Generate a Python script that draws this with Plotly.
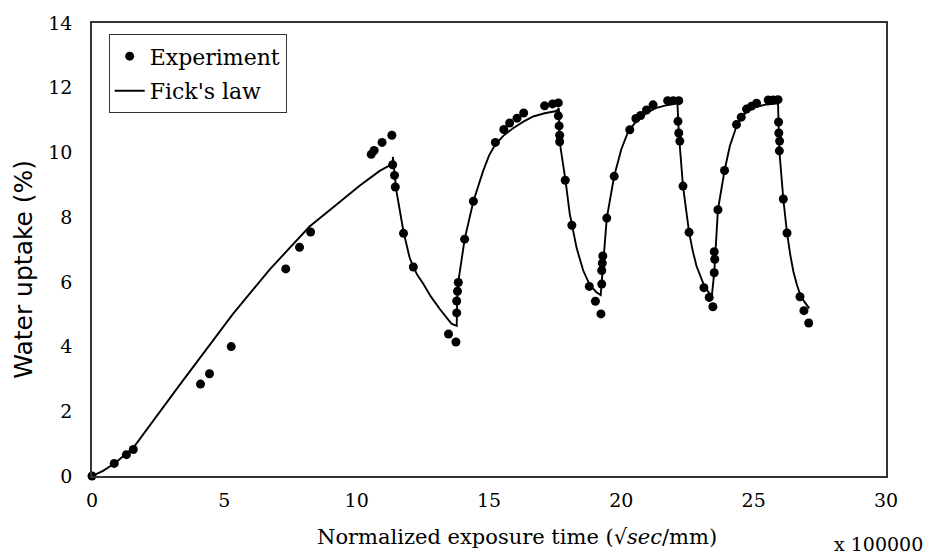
import plotly.graph_objects as go

# Experimental data (x in units of 1e5 sqrt(sec)/mm, y in %)
exp_x = [0, 0.84, 1.30, 1.56, 4.10, 4.44, 5.26, 7.32, 7.84, 8.26, 10.55, 10.66, 10.96, 11.33,
         11.36, 11.43, 11.46, 11.77, 12.14, 13.47, 13.75,
         13.78, 13.78, 13.81, 13.84, 14.08, 14.41, 15.24, 15.56, 15.78, 16.06, 16.31, 17.10, 17.40, 17.62,
         17.62, 17.65, 17.67, 17.67, 17.88, 18.13, 18.79, 19.02, 19.23,
         19.26, 19.26, 19.28, 19.30, 19.45, 19.73, 20.32, 20.55, 20.73, 20.95, 21.20, 21.75, 21.96, 22.17,
         22.14, 22.17, 22.21, 22.33, 22.56, 23.12, 23.32, 23.46,
         23.51, 23.53, 23.51, 23.65, 23.90, 24.35, 24.53, 24.73, 24.92, 25.11, 25.55, 25.74, 25.92,
         25.94, 25.95, 25.98, 25.97, 26.12, 26.26, 26.75, 26.90, 27.08]
exp_y = [0, 0.39, 0.66, 0.82, 2.84, 3.16, 4.00, 6.40, 7.07, 7.54, 9.94, 10.06, 10.31, 10.53,
         9.62, 9.29, 8.93, 7.50, 6.46, 4.39, 4.14,
         5.04, 5.41, 5.71, 5.98, 7.32, 8.49, 10.31, 10.71, 10.91, 11.06, 11.22, 11.44, 11.50, 11.53,
         11.13, 10.82, 10.53, 10.33, 9.14, 7.75, 5.86, 5.40, 5.01,
         5.93, 6.35, 6.58, 6.80, 7.97, 9.26, 10.70, 11.05, 11.14, 11.31, 11.47, 11.60, 11.60, 11.60,
         10.96, 10.60, 10.35, 8.96, 7.53, 5.82, 5.52, 5.23,
         6.28, 6.70, 6.93, 8.23, 9.44, 10.86, 11.09, 11.34, 11.43, 11.52, 11.62, 11.62, 11.63,
         10.94, 10.60, 10.35, 10.05, 8.56, 7.51, 5.54, 5.11, 4.73]

# Fick's law model curve
fick_x = [0, 0.4, 0.84, 1.56, 3.3, 4.82, 5.32, 6.71, 8.22, 9.36, 10.11, 10.87, 11.18, 11.36,
          11.37, 11.44, 11.50, 11.77, 12.0, 12.14, 12.3, 12.51, 12.8, 13.14, 13.4, 13.58, 13.78,
          13.80, 13.84, 14.08, 14.41, 14.78, 15.0, 15.24, 15.55, 15.91, 16.3, 16.67, 17.1, 17.55, 17.64,
          17.67, 17.89, 18.05, 18.31, 18.56, 18.81, 19.06, 19.22,
          19.25, 19.45, 19.73, 20.0, 20.26, 20.6, 20.95, 21.3, 21.71, 22.12,
          22.17, 22.33, 22.56, 22.70, 22.84, 23.0, 23.12, 23.28, 23.42,
          23.51, 23.65, 23.90, 24.1, 24.35, 24.6, 24.92, 25.4, 25.92,
          25.97, 26.12, 26.26, 26.38, 26.50, 26.63, 26.75, 26.92, 27.10]
fick_y = [0, 0.15, 0.38, 0.87, 2.8, 4.45, 5.0, 6.38, 7.71, 8.47, 8.97, 9.43, 9.57, 9.62,
          9.86, 9.28, 8.82, 7.55, 6.75, 6.46, 6.2, 5.95, 5.55, 5.16, 4.88, 4.71, 4.64,
          5.5, 6.0, 7.32, 8.49, 9.43, 9.9, 10.25, 10.52, 10.75, 10.95, 11.11, 11.21, 11.28, 11.36,
          10.33, 9.14, 8.11, 7.05, 6.35, 5.9, 5.68, 5.59,
          5.9, 7.97, 9.27, 10.1, 10.65, 11.0, 11.22, 11.37, 11.46, 11.52,
          10.6, 8.96, 7.53, 6.95, 6.49, 6.12, 5.9, 5.7, 5.57,
          6.28, 8.23, 9.44, 10.2, 10.8, 11.15, 11.37, 11.47, 11.52,
          10.05, 8.56, 7.51, 6.85, 6.32, 5.92, 5.62, 5.38, 5.18]

x_ticks = [0, 5, 10, 15, 20, 25, 30]
y_ticks = [0, 2, 4, 6, 8, 10, 12, 14]

fig = go.Figure()
fig.add_trace(go.Scatter(x=exp_x, y=exp_y, mode="markers", name="Experiment", legendgroup="a",
                         marker=dict(color="black", size=9), cliponaxis=False))
fig.add_trace(go.Scatter(x=fick_x, y=fick_y, mode="lines", name="Fick's law", legendgroup="b",
                         line=dict(color="black", width=1.9)))

tick_font = dict(family="DejaVu Serif", size=19, color="black")
fig.update_layout(
    width=926, height=555,
    margin=dict(l=92, r=40, t=17, b=79),
    paper_bgcolor="white", plot_bgcolor="white",
    showlegend=True,
    legend=dict(x=0.021, y=0.975, xanchor="left", yanchor="top",
                bordercolor="#333333", borderwidth=1, bgcolor="white",
                font=dict(family="DejaVu Serif", size=22, color="black"),
                itemwidth=30, tracegroupgap=3),
    xaxis=dict(range=[0, 30], tickvals=x_ticks, ticktext=[str(v) for v in x_ticks],
               showgrid=False, zeroline=False, showline=True, linecolor="#333333",
               linewidth=1.5, mirror=True, ticks="", tickfont=tick_font, ticklabelstandoff=6),
    yaxis=dict(range=[0, 14], tickvals=y_ticks, ticktext=[str(v) for v in y_ticks],
               showgrid=False, zeroline=False, showline=True, linecolor="#333333",
               linewidth=1.5, mirror=True, ticks="", tickfont=tick_font, ticklabelstandoff=14),
    annotations=[
        dict(text="Normalized exposure time (√<i>sec</i>/mm)", xref="paper", yref="paper",
             x=(517 - 92) / (886 - 92), y=-(538 - 476) / (476 - 17), xanchor="center", yanchor="middle",
             showarrow=False, font=dict(family="DejaVu Serif", size=21, color="black")),
        dict(text="Water uptake (%)", xref="paper", yref="paper", textangle=-90,
             x=-(92 - 24) / (886 - 92), y=(476 - 267) / (476 - 17), xanchor="center", yanchor="middle",
             showarrow=False, font=dict(family="DejaVu Sans", size=25, color="black")),
        dict(text="x 100000", xref="paper", yref="paper",
             x=(878 - 92) / (886 - 92), y=-(545 - 476) / (476 - 17), xanchor="center", yanchor="middle",
             showarrow=False, font=dict(family="DejaVu Serif", size=19, color="black")),
    ],
)

fig.write_html("out.html")
